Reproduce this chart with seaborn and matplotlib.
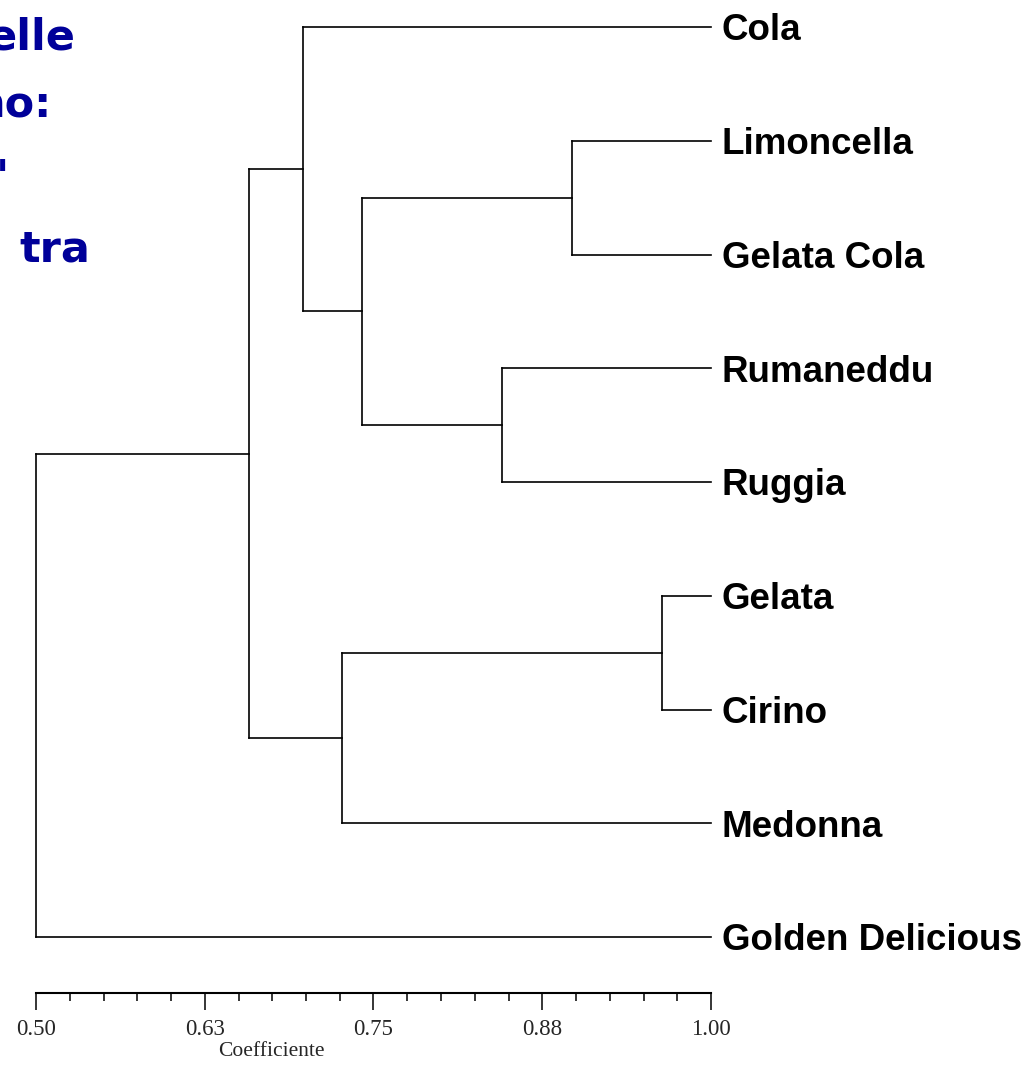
import matplotlib
matplotlib.use("Agg")
import matplotlib.pyplot as plt
import matplotlib.transforms as mtransforms
import seaborn as sns
import pandas as pd
import numpy as np

# ---------------- data ----------------
leaves = ["Cola", "Limoncella", "Gelata Cola", "Rumaneddu", "Ruggia",
          "Gelata", "Cirino", "Medonna", "Golden Delicious"]
# merges: (child_a, child_b, similarity level); new cluster ids start at len(leaves)
merge_a = [1, 3, 5, 9, 0, 11, 13, 15]
merge_b = [2, 4, 6, 10, 12, 7, 14, 8]
merge_level = [0.897, 0.845, 0.964, 0.7415, 0.698, 0.727, 0.658, 0.500]
tick_values = [0.50, 0.625, 0.75, 0.875, 1.00]
tick_labels = ["0.50", "0.63", "0.75", "0.88", "1.00"]
minor_step = 0.025
x_label = "Coefficiente"
side_text = ["elle", "no:", "a'", "tra"]

# ---------------- build segments ----------------
pos_x = {i: 1.0 for i in range(len(leaves))}
pos_y = {i: float(i) for i in range(len(leaves))}
rows = []
seg = 0
for k, (a, b, h) in enumerate(zip(merge_a, merge_b, merge_level)):
    nid = len(leaves) + k
    for c in (a, b):
        rows.append((seg, h, pos_y[c])); rows.append((seg, pos_x[c], pos_y[c])); seg += 1
    rows.append((seg, h, pos_y[a])); rows.append((seg, h, pos_y[b])); seg += 1
    pos_x[nid] = h
    pos_y[nid] = (pos_y[a] + pos_y[b]) / 2
df = pd.DataFrame(rows, columns=["seg", "x", "y"])

# ---------------- figure ----------------
sns.set_theme(style="white")
W, H = 1036, 1066
fig = plt.figure(figsize=(W / 100, H / 100), dpi=100)
ax = fig.add_axes([36 / W, 1 - 993 / H, 675 / W, (993 - 2) / H])

sns.lineplot(data=df, x="x", y="y", units="seg", estimator=None, sort=False,
             color="black", linewidth=1.2, ax=ax, legend=False)
for ln in ax.lines:
    ln.set_clip_on(False)
    ln.set_solid_capstyle("projecting")

ax.set_xlim(0.5, 1.0)
ax.set_ylim(8.492, -0.22)
for s in ("top", "left", "right"):
    ax.spines[s].set_visible(False)
ax.spines["bottom"].set_color("black")
ax.spines["bottom"].set_linewidth(1.5)
ax.set_yticks([])
ax.set_ylabel("")

ax.set_xticks(tick_values)
ax.set_xticklabels(tick_labels, family="Liberation Serif", fontsize=16.5)
ax.set_xticks(np.arange(tick_values[0], tick_values[-1] + 1e-9, minor_step), minor=True)
ax.tick_params(axis="x", which="major", direction="out", length=12, width=1.1,
               color="black", pad=7, bottom=True)
ax.tick_params(axis="x", which="minor", direction="out", length=6, width=1.1,
               color="black", bottom=True)
ax.set_xlabel(x_label, family="Liberation Serif", fontsize=15.5)
ax.xaxis.set_label_coords((271 - 36) / 675, -(1052 - 993) / 991)
ax.xaxis.label.set_va("center")

# leaf labels (start at ~11 px right of the leaf ends)
off = (mtransforms.ScaledTranslation(11 / 100, -2.7 / 72, fig.dpi_scale_trans))
for i, name in enumerate(leaves):
    ax.text(1.0, pos_y[i], name, ha="left", va="center",
            family="Liberation Sans", fontweight="bold", fontsize=26.5,
            color="black", transform=ax.transData + off, clip_on=False)

# cut-off side text (top-left), as in the reference
side_right = [75, 52, 9, 90]
side_base = [50, 117, 190, 262]
for txt, xr, yb in zip(side_text, side_right, side_base):
    fig.text(xr / W, 1 - yb / H, txt, ha="right", va="baseline",
             family="DejaVu Sans", fontweight="bold", fontsize=31, color="#000099")

fig.savefig("out.png", dpi=100)
